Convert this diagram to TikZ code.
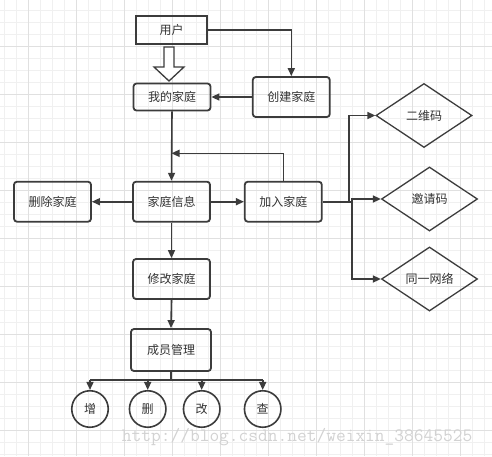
\documentclass[tikz,border=0pt]{standalone}
\usepackage{fontspec}
\newfontfamily\cjk{Noto Sans CJK SC}
\usetikzlibrary{arrows.meta,shapes.geometric}
\definecolor{ln}{RGB}{60,60,60}
\definecolor{tx}{RGB}{51,51,51}
\definecolor{gminor}{RGB}{240,240,240}
\definecolor{gmajor}{RGB}{224,224,224}
\definecolor{wm}{RGB}{210,210,210}
\begin{document}
\begin{tikzpicture}[x=1pt,y=-1pt,
  lbl/.style={font=\cjk\fontsize{12}{14}\selectfont,text=tx},
  box/.style={lbl,draw=ln,line width=1.8pt,rounded corners=3pt,minimum width=77pt,minimum height=40pt,inner sep=0pt},
  sbox/.style={lbl,draw=ln,line width=1.8pt,minimum width=71pt,minimum height=28pt,inner sep=0pt},
  dia/.style={lbl,draw=ln,line width=1.3pt,diamond,shape aspect=1.5,minimum width=96pt,minimum height=64pt,inner sep=0pt},
  circ/.style={lbl,draw=ln,line width=1.6pt,circle,minimum size=36.5pt,inner sep=0pt},
  conn/.style={draw=ln,line width=1.6pt},
  arr/.style={conn,-{Triangle[length=8pt,width=7pt]}}
]
\useasboundingbox (0,0) rectangle (492,456);
\fill[white] (0,0) rectangle (492,456);
% grid
\foreach \x in {4,16,...,492} \draw[gminor,line width=0.8pt] (\x,0) -- (\x,456);
\foreach \y in {10,22,...,456} \draw[gminor,line width=0.8pt] (0,\y) -- (492,\y);
\foreach \x in {28,76,...,492} \draw[gmajor,line width=1pt] (\x,0) -- (\x,456);
\foreach \y in {46,94,...,456} \draw[gmajor,line width=1pt] (0,\y) -- (492,\y);

% nodes
\node[sbox] (user) at (171.5,30) {用户};
\node[box,minimum height=27pt] (mine) at (172,97) {我的家庭};
\node[box] (create) at (291.3,97) {创建家庭};
\node[box] (info) at (171.5,201.7) {家庭信息};
\node[box] (del) at (52.5,201.7) {删除家庭};
\node[box] (join) at (283.3,201.7) {加入家庭};
\node[box] (edit) at (171.5,279) {修改家庭};
\node[box,minimum width=80pt,minimum height=42pt] (mgmt) at (171,350) {成员管理};
\node[dia] (qr) at (424,115.5) {二维码};
\node[dia] (inv) at (429.5,199) {邀请码};
\node[dia] (net) at (429.5,279) {同一网络};
\node[circ] (c1) at (90,409) {增};
\node[circ] (c2) at (147.7,409) {删};
\node[circ] (c3) at (201.7,409) {改};
\node[circ] (c4) at (262.7,409) {查};

% hollow arrow user -> mine
\draw[ln,line width=1.3pt,fill=white,line join=miter] (164,47) -- (174,47) -- (174,67) -- (184,67) -- (169,81) -- (154,67) -- (164,67) -- cycle;

% connectors
\draw[arr] (user.east) -| (create.north);
\draw[arr] (create.west) -- (mine.east);
\draw[arr] (mine.south) -- (info.north);
\coordinate (jn) at (171.5,153.3);
\draw[arr] (join.north) |- (jn);
\draw[arr] (info.west) -- (del.east);
\draw[arr] (info.east) -- (join.west);
\coordinate (b1) at (349,201.7);
\coordinate (b2) at (351.7,201.7);
\draw[conn] (join.east) -- (b2);
\draw[arr] (b1) |- (qr.west);
\draw[arr] (b2) |- (inv.west);
\draw[arr] (b2) |- (net.west);
\draw[arr] (info.south) -- (edit.north);
\draw[arr] (edit.south) -- (mgmt.north);
\coordinate (bus) at (171,380);
\draw[conn] (mgmt.south) -- (bus);
\draw[conn] (c1.north |- bus) -- (c4.north |- bus);
\foreach \c in {c1,c2,c3,c4} \draw[arr] (\c.north |- bus) -- (\c.north);

% watermark
\node[anchor=base west,inner sep=0pt,text=wm,font=\ttfamily\fontsize{18.9}{20}\selectfont] (wmk) at (121.7,441.7) {http://blog.csdn.net/weixin\_38645525};
\end{tikzpicture}
\end{document}
